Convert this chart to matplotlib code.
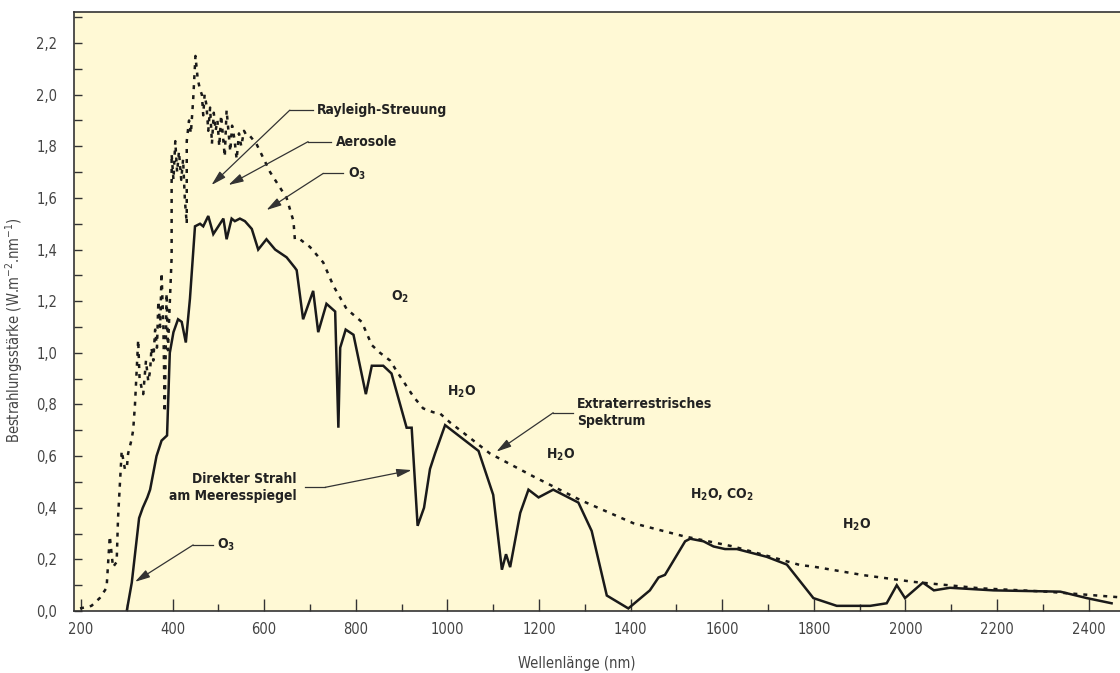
import numpy as np
import matplotlib
matplotlib.use("Agg")
import matplotlib.pyplot as plt
from matplotlib.ticker import MultipleLocator, FuncFormatter

# direct beam at sea level (solid)
direct_nm = [300, 311, 327, 335, 345, 351, 365, 376, 388, 394, 402, 412, 420, 429,
             438, 449, 460, 467, 478, 489, 500, 511, 518, 529, 536, 547, 558, 573,
             587, 605, 624, 649, 667, 671, 685, 707, 718, 736, 755, 762, 766, 778,
             795, 822, 835, 860, 878, 911, 922, 935, 949, 962, 973, 995, 1068, 1100,
             1119, 1128, 1137, 1159, 1177, 1199, 1231, 1286, 1315, 1348, 1395, 1442,
             1461, 1475, 1519, 1530, 1559, 1581, 1606, 1632, 1697, 1741, 1799, 1850,
             1923, 1959, 1981, 1999, 2038, 2062, 2097, 2192, 2338, 2396, 2450]
direct_val = [0.00, 0.11, 0.36, 0.40, 0.44, 0.47, 0.60, 0.66, 0.68, 1.00, 1.08, 1.13, 1.12, 1.04,
              1.21, 1.49, 1.50, 1.49, 1.53, 1.46, 1.49, 1.52, 1.44, 1.52, 1.51, 1.52, 1.51, 1.48,
              1.40, 1.44, 1.40, 1.37, 1.33, 1.32, 1.13, 1.24, 1.08, 1.19, 1.16, 0.71, 1.02, 1.09,
              1.07, 0.84, 0.95, 0.95, 0.92, 0.71, 0.71, 0.33, 0.40, 0.55, 0.61, 0.72, 0.62, 0.45,
              0.16, 0.22, 0.17, 0.38, 0.47, 0.44, 0.47, 0.42, 0.31, 0.06, 0.01, 0.08,
              0.13, 0.14, 0.27, 0.28, 0.27, 0.25, 0.24, 0.24, 0.21, 0.18, 0.05, 0.02,
              0.02, 0.03, 0.10, 0.05, 0.11, 0.08, 0.09, 0.08, 0.075, 0.05, 0.03]

# extraterrestrial spectrum (dotted)
extra_nm = [198, 223, 241, 256, 263, 270, 278, 281, 289, 296, 300, 303, 310, 314,
            318, 325, 328, 333, 336, 342, 347, 351, 354, 358, 362, 366, 369, 373,
            376, 380, 383, 387, 390, 393, 398, 398, 402, 406, 410, 414, 419, 423,
            427, 431, 431, 436, 440, 445, 450, 455, 460, 464, 467, 470, 474, 478,
            482, 486, 490, 494, 498, 502, 506, 510, 514, 518, 522, 526, 530, 535,
            540, 545, 550, 556, 562, 569, 583, 613, 649, 664, 667, 678, 700, 729,
            751, 780, 813, 835, 853, 875, 889, 926, 947, 969, 984, 1006, 1028, 1093,
            1189, 1290, 1406, 1515, 1624, 1726, 1770, 1799, 1908, 2017, 2163, 2309, 2469]
extra_val = [0.01, 0.02, 0.05, 0.09, 0.29, 0.17, 0.19, 0.36, 0.62, 0.55, 0.55, 0.61, 0.66, 0.70,
             0.80, 1.05, 0.90, 0.86, 0.84, 0.97, 0.89, 0.93, 1.02, 0.97, 1.09, 1.02, 1.20, 1.10,
             1.31, 1.10, 0.77, 1.23, 1.01, 1.15, 1.37, 1.77, 1.67, 1.82, 1.70, 1.78, 1.67, 1.75,
             1.59, 1.50, 1.82, 1.90, 1.85, 1.98, 2.15, 2.06, 2.02, 2.00, 1.92, 2.00, 1.96, 1.86,
             1.95, 1.81, 1.93, 1.86, 1.90, 1.80, 1.92, 1.84, 1.76, 1.94, 1.86, 1.78, 1.88, 1.83,
             1.75, 1.85, 1.80, 1.86, 1.84, 1.84, 1.81, 1.70, 1.60, 1.51, 1.44, 1.44, 1.41, 1.35,
             1.26, 1.17, 1.12, 1.03, 1.00, 0.97, 0.93, 0.83, 0.785, 0.77, 0.765, 0.73, 0.70, 0.61,
             0.52, 0.43, 0.34, 0.29, 0.25, 0.20, 0.178, 0.172, 0.139, 0.113, 0.088, 0.075, 0.053]

# labelled arrows: text, text anchor, elbow start, elbow corner, arrow tip
arrow_labels = ["Rayleigh-Streuung", "Aerosole", "O$_3$", "Extraterrestrisches\nSpektrum",
                "Direkter Strahl\nam Meeresspiegel", "O$_3$"]
arrow_text_xy = [(716, 1.94), (756, 1.818), (782, 1.695), (1283, 0.768), (671, 0.479), (496, 0.256)]
arrow_text_ha = ["left", "left", "left", "left", "right", "left"]
arrow_start = [(707, 1.94), (747, 1.818), (773, 1.695), (1275, 0.768), (689, 0.479), (489, 0.256)]
arrow_corner = [(656, 1.94), (696, 1.818), (729, 1.695), (1231, 0.768), (733, 0.479), (445, 0.256)]
arrow_tip = [(485, 1.65), (522, 1.65), (605, 1.553), (1107, 0.617), (922, 0.546), (318, 0.113)]

# band labels without arrows
band_labels = ["O$_2$", "H$_2$O", "H$_2$O", "H$_2$O, CO$_2$", "H$_2$O"]
band_xy = [(896, 1.217), (1030, 0.848), (1248, 0.604), (1599, 0.449), (1894, 0.333)]

plt.rcParams["font.family"] = ["DejaVu Sans"]
plt.rcParams["font.stretch"] = "condensed"
plt.rcParams["mathtext.default"] = "regular"
BG = "#FFF9D5"
INK = "#1a1a1a"
TXT = dict(stretch="condensed")

fig = plt.figure(figsize=(11.2, 6.73), dpi=100)
ax = fig.add_axes([0.066, 0.0921, 0.94, 0.890])
ax.set_facecolor(BG)

ax.plot(extra_nm, extra_val, color=INK, lw=1.8, linestyle=(0, (1.6, 2.4)))
ax.plot(direct_nm, direct_val, color=INK, lw=1.8, solid_joinstyle="miter")

for lab, txy, ha, s, c, tip in zip(arrow_labels, arrow_text_xy, arrow_text_ha,
                                     arrow_start, arrow_corner, arrow_tip):
    ax.plot([s[0], c[0]], [s[1], c[1]], color="#333333", lw=0.9)
    ax.annotate("", xy=tip, xytext=c,
                arrowprops=dict(arrowstyle="-|>,head_length=0.9,head_width=0.25",
                                color="#333333", lw=0.9, shrinkA=0, shrinkB=0))
    ax.text(txy[0], txy[1], lab, ha=ha, va="center", fontsize=10, fontweight="bold",
            color="#222222", linespacing=1.3, **TXT)

for lab, xy in zip(band_labels, band_xy):
    ax.text(xy[0], xy[1], lab, ha="center", va="center", fontsize=10, fontweight="bold",
            color="#222222", **TXT)

ax.set_xlim(184.7, 2483)
ax.set_ylim(0, 2.32)
ax.xaxis.set_major_locator(MultipleLocator(200))
ax.xaxis.set_minor_locator(MultipleLocator(100))
ax.yaxis.set_major_locator(MultipleLocator(0.2))
ax.yaxis.set_minor_locator(MultipleLocator(0.1))
ax.yaxis.set_major_formatter(FuncFormatter(lambda v, p: f"{v:.1f}".replace(".", ",")))

ax.tick_params(axis="x", which="major", direction="in", length=9, width=1, pad=8,
               colors="#333333", labelcolor="#444444", labelsize=10.5)
ax.tick_params(axis="x", which="minor", direction="in", length=5, width=1, colors="#333333")
ax.tick_params(axis="y", which="both", direction="in", length=6, width=1, pad=12,
               colors="#333333", labelcolor="#444444", labelsize=10.5)

for sp in ax.spines.values():
    sp.set_color("#333333")
    sp.set_linewidth(1.2)

ax.set_xlabel("Wellenlänge (nm)", fontsize=10.5, color="#444444", **TXT)
ax.xaxis.set_label_coords(0.478, -0.075)
ax.set_ylabel("Bestrahlungsstärke (W.m$^{-2}$.nm$^{-1}$)", fontsize=10.5, color="#444444", **TXT)
ax.yaxis.set_label_coords(-0.046, 0.469)

fig.savefig("out.png", dpi=100, facecolor="white")
